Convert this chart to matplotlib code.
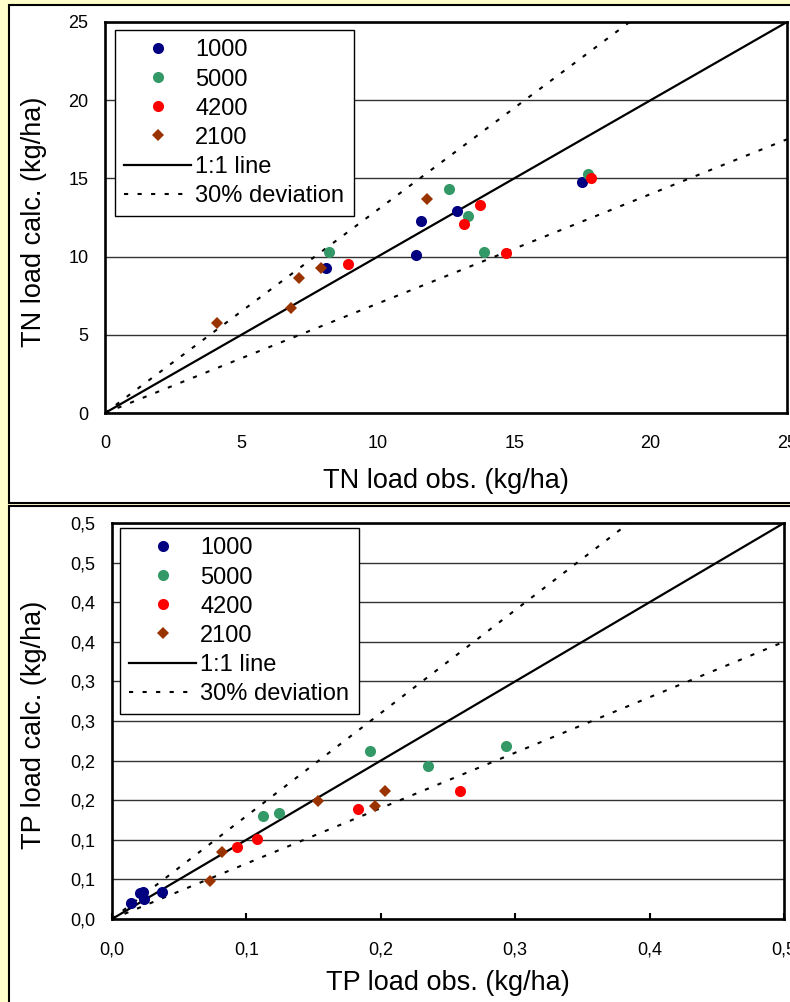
import matplotlib
matplotlib.use('Agg')
from matplotlib import pyplot as plt
from matplotlib.lines import Line2D
from matplotlib.patches import Rectangle
import numpy as np

plt.rcParams['font.family'] = ['Liberation Sans', 'DejaVu Sans']

# catchment series (legend names, colours, markers)
series_names = ['1000', '5000', '4200', '2100']
series_colors = ['#000080', '#339966', '#FF0000', '#993300']
series_markers = ['o', 'o', 'o', 'D']

# TN load, kg/ha  (observed, calculated)
tn_obs = [
    [8.1, 11.4, 11.6, 12.9, 17.5],     # 1000
    [8.2, 12.6, 13.3, 17.7, 13.9],     # 5000
    [8.9, 13.75, 13.15, 17.8, 14.7],   # 4200
    [4.1, 6.8, 7.1, 7.9, 11.8],        # 2100
]
tn_calc = [
    [9.3, 10.1, 12.3, 12.9, 14.8],
    [10.3, 14.3, 12.6, 15.3, 10.3],
    [9.5, 13.3, 12.1, 15.0, 10.2],
    [5.75, 6.7, 8.6, 9.3, 13.7],
]

# TP load, kg/ha
tp_obs = [
    [0.014, 0.021, 0.024, 0.023, 0.037],
    [0.112, 0.124, 0.192, 0.235, 0.293],
    [0.093, 0.108, 0.183, 0.259],
    [0.073, 0.082, 0.153, 0.196, 0.203],
]
tp_calc = [
    [0.020, 0.033, 0.025, 0.034, 0.034],
    [0.130, 0.134, 0.212, 0.193, 0.218],
    [0.091, 0.101, 0.139, 0.162],
    [0.048, 0.085, 0.149, 0.143, 0.162],
]

tn_ticks = [0, 5, 10, 15, 20, 25]
tn_labels = ['0', '5', '10', '15', '20', '25']
tp_xticks = [0.0, 0.1, 0.2, 0.3, 0.4, 0.5]
tp_xlabels = ['0,0', '0,1', '0,2', '0,3', '0,4', '0,5']
tp_yticks = [0.0, 0.05, 0.10, 0.15, 0.20, 0.25, 0.30, 0.35, 0.40, 0.45, 0.50]
tp_ylabels = ['0,0', '0,1', '0,1', '0,2', '0,2', '0,3', '0,3', '0,4', '0,4', '0,5', '0,5']

deviation = 0.30

W, H = 790, 1002
fig = plt.figure(figsize=(W / 100, H / 100), dpi=100, facecolor='#FFFFCC')


def px_box(x0, y0, x1, y1):
    # pixel box (top-left origin) -> figure fraction rect
    return [x0 / W, 1 - y1 / H, (x1 - x0) / W, (y1 - y0) / H]


# white panels with black border
for y0, y1 in [(5, 503), (506, 1012)]:
    r = px_box(9, y0, 800, y1)
    fig.add_artist(Rectangle((r[0], r[1]), r[2], r[3], transform=fig.transFigure,
                             facecolor='white', edgecolor='black', lw=1.5, zorder=-1))


def msize(m):
    return 8 if m == 'o' else 6.3


def draw_panel(ax, obs, calc, lim, xt, xl, yt, yl, xlab, ylab, legend_xy):
    for i in range(len(series_names)):
        ax.plot(obs[i], calc[i], linestyle='none', marker=series_markers[i],
                color=series_colors[i], markersize=msize(series_markers[i]),
                markeredgewidth=0, zorder=4)
    xx = np.array([0, lim])
    ax.plot(xx, xx, color='black', lw=1.6, zorder=3)
    ax.plot(xx, xx * (1 + deviation), color='black', lw=1.5, linestyle=(0, (2, 4.5)), zorder=3)
    ax.plot(xx, xx * (1 - deviation), color='black', lw=1.5, linestyle=(0, (2, 4.5)), zorder=3)
    ax.set_xlim(0, lim)
    ax.set_ylim(0, lim)
    ax.set_xticks(xt)
    ax.set_xticklabels(xl)
    ax.set_yticks(yt)
    ax.set_yticklabels(yl)
    ax.yaxis.grid(True, color='#333333', lw=1.0)
    ax.set_axisbelow(True)
    ax.tick_params(axis='y', length=0, pad=12, labelsize=13)
    ax.tick_params(axis='x', length=0, pad=16, labelsize=13)
    for s in ax.spines.values():
        s.set_linewidth(1.9)
        s.set_color('black')
    ax.set_xlabel(xlab, fontsize=19.5, va='center')
    ax.set_ylabel(ylab, fontsize=19.5, va='center')

    handles = [Line2D([], [], linestyle='none', marker=series_markers[i], color=series_colors[i],
                      markersize=msize(series_markers[i]), markeredgewidth=0)
               for i in range(len(series_names))]
    handles.append(Line2D([], [], color='black', lw=1.6))
    handles.append(Line2D([], [], color='black', lw=1.5, linestyle=(0, (2, 4.5))))
    labels = series_names + ['1:1 line', '30% deviation']
    leg = ax.legend(handles, labels, loc='upper left', bbox_to_anchor=(legend_xy[0] / W, 1 - legend_xy[1] / H),
                    bbox_transform=fig.transFigure, borderaxespad=0, fontsize=17, handlelength=2.8,
                    handletextpad=0.2, labelspacing=0.3, borderpad=0.4, fancybox=False,
                    framealpha=1, edgecolor='black')
    leg.get_frame().set_linewidth(1.0)
    leg.set_zorder(6)


ax1 = fig.add_axes(px_box(105, 22, 787, 413))
draw_panel(ax1, tn_obs, tn_calc, 25, tn_ticks, tn_labels, tn_ticks, tn_labels,
           'TN load obs. (kg/ha)', 'TN load calc. (kg/ha)', (115, 30))
ax1.xaxis.set_label_coords(0.5, (413 - 481) / 391)
ax1.yaxis.set_label_coords((34 - 105) / 682, 0.49)

ax2 = fig.add_axes(px_box(112, 523, 784, 919))
draw_panel(ax2, tp_obs, tp_calc, 0.5, tp_xticks, tp_xlabels, tp_yticks, tp_ylabels,
           'TP load obs. (kg/ha)', 'TP load calc. (kg/ha)', (120, 528))
ax2.tick_params(axis='x', direction='in', length=4, width=1.5)
ax2.xaxis.set_label_coords(0.5, (919 - 983) / 396)
ax2.yaxis.set_label_coords((34 - 112) / 672, 0.49)

fig.savefig('out.png', dpi=100, facecolor=fig.get_facecolor())
